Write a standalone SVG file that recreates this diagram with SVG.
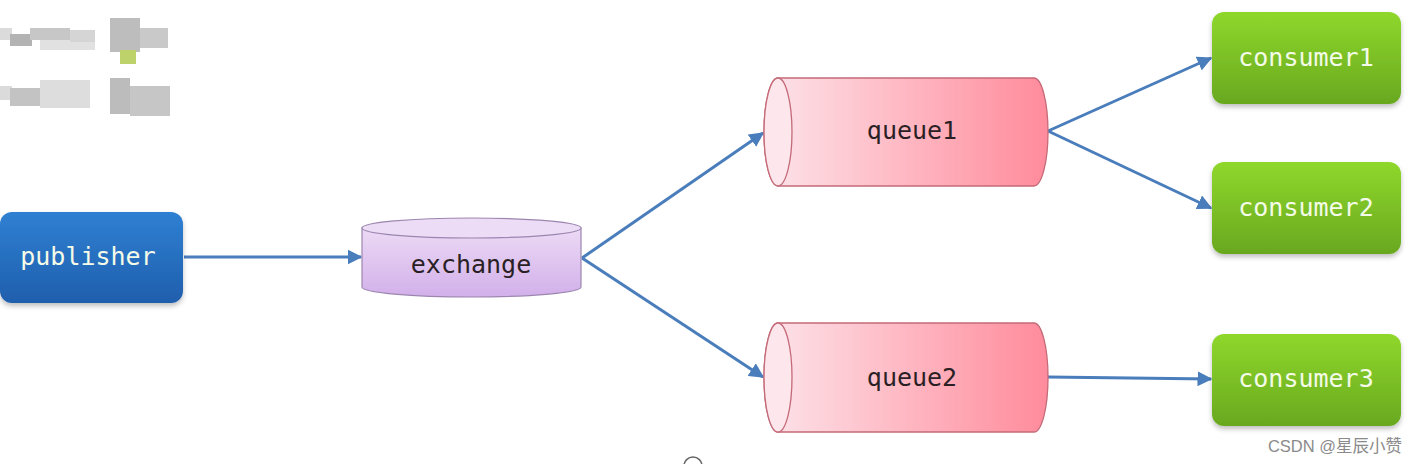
<svg xmlns="http://www.w3.org/2000/svg" width="1418" height="464" viewBox="0 0 1418 464">
<defs>
<linearGradient id="gBlue" x1="0" y1="0" x2="0" y2="1"><stop offset="0" stop-color="#2f80d2"/><stop offset="1" stop-color="#1f5ead"/></linearGradient>
<linearGradient id="gGreen" x1="0" y1="0" x2="0" y2="1"><stop offset="0" stop-color="#8fd82c"/><stop offset="1" stop-color="#68a81f"/></linearGradient>
<linearGradient id="gPurple" x1="0" y1="0" x2="0" y2="1"><stop offset="0" stop-color="#ecdaf5"/><stop offset="1" stop-color="#d2b0ea"/></linearGradient>
<linearGradient id="gPink" x1="0" y1="0" x2="1" y2="0"><stop offset="0" stop-color="#fde4ea"/><stop offset="1" stop-color="#ff8b9b"/></linearGradient>
<filter id="sh" x="-10%" y="-10%" width="120%" height="130%"><feDropShadow dx="0" dy="3" stdDeviation="2.5" flood-color="#000" flood-opacity="0.25"/></filter>
<marker id="arr" viewBox="0 0 10 10" refX="9" refY="5" markerWidth="5" markerHeight="5" orient="auto" markerUnits="strokeWidth"><path d="M0,0 L10,5 L0,10 z" fill="#4a7dbb"/></marker>
</defs>
<style>
.lbl{font-family:"DejaVu Sans Mono","Liberation Mono",monospace;font-size:25px;text-anchor:middle;dominant-baseline:central}
.w{fill:#f4fbe8}
.d{fill:#2a1f24}
.conn{stroke:#4a7dbb;stroke-width:3;fill:none;marker-end:url(#arr)}
.qs{stroke:#c46a78;stroke-width:1.3}
</style>
<rect width="1418" height="464" fill="#ffffff"/>
<g id="mosaic" opacity="0.75">
<rect x="0" y="28" width="12" height="12" fill="#d0d0d0"/>
<rect x="10" y="34" width="22" height="12" fill="#9a9a9a"/>
<rect x="30" y="28" width="40" height="12" fill="#b5b5b5"/>
<rect x="40" y="40" width="55" height="10" fill="#d8d8d8"/>
<rect x="70" y="30" width="25" height="12" fill="#c8c8c8"/>
<rect x="110" y="18" width="30" height="34" fill="#a8a8a8"/>
<rect x="140" y="28" width="28" height="20" fill="#b8b8b8"/>
<rect x="120" y="50" width="16" height="14" fill="#a8c43a"/>
<rect x="0" y="86" width="12" height="14" fill="#cfcfcf"/>
<rect x="10" y="88" width="30" height="18" fill="#b0b0b0"/>
<rect x="40" y="80" width="50" height="28" fill="#d2d2d2"/>
<rect x="110" y="78" width="20" height="36" fill="#a6a6a6"/>
<rect x="130" y="86" width="40" height="30" fill="#b4b4b4"/>
</g>
<g id="connectors">
<line class="conn" x1="184" y1="257" x2="361" y2="257"/>
<line class="conn" x1="582" y1="258" x2="763" y2="133"/>
<line class="conn" x1="582" y1="258" x2="763" y2="377"/>
<line class="conn" x1="1048" y1="131" x2="1211" y2="58"/>
<line class="conn" x1="1048" y1="131" x2="1211" y2="208"/>
<line class="conn" x1="1048" y1="377" x2="1211" y2="379"/>
</g>
<g id="publisher">
<rect x="0" y="212" width="183" height="91" rx="12" fill="url(#gBlue)" filter="url(#sh)"/>
<text class="lbl w" x="88" y="256">publisher</text>
</g>
<g id="exchange">
<path d="M362,228 L362,287 A109.5,10 0 0 0 581,287 L581,228 Z" fill="url(#gPurple)" stroke="#9c86b0" stroke-width="1.2"/>
<ellipse cx="471.5" cy="228" rx="109.5" ry="10" fill="#ecdcf5" stroke="#9c86b0" stroke-width="1.2"/>
<text class="lbl d" x="471" y="264">exchange</text>
</g>
<g id="queue1">
<path d="M778,78 L1034,78 A14,54 0 0 1 1034,186 L778,186 A14,54 0 0 1 778,78 Z" fill="url(#gPink)" class="qs"/>
<ellipse cx="778" cy="132" rx="14" ry="54" fill="#fde6ec" class="qs"/>
<text class="lbl d" x="912" y="130">queue1</text>
</g>
<g id="queue2">
<path d="M778,323 L1034,323 A14,54.5 0 0 1 1034,432 L778,432 A14,54.5 0 0 1 778,323 Z" fill="url(#gPink)" class="qs"/>
<ellipse cx="778" cy="377.5" rx="14" ry="54.5" fill="#fde6ec" class="qs"/>
<text class="lbl d" x="912" y="377">queue2</text>
</g>
<g id="consumer1">
<rect x="1212" y="12" width="189" height="92" rx="12" fill="url(#gGreen)" filter="url(#sh)"/>
<text class="lbl w" x="1306" y="57">consumer1</text>
</g>
<g id="consumer2">
<rect x="1212" y="162" width="189" height="92" rx="12" fill="url(#gGreen)" filter="url(#sh)"/>
<text class="lbl w" x="1306" y="207">consumer2</text>
</g>
<g id="consumer3">
<rect x="1212" y="334" width="189" height="92" rx="12" fill="url(#gGreen)" filter="url(#sh)"/>
<text class="lbl w" x="1306" y="378">consumer3</text>
</g>
<circle cx="693" cy="466" r="9" fill="none" stroke="#666" stroke-width="1.5"/>
<text x="1402" y="452" font-family="Liberation Sans, 'Noto Sans CJK SC', sans-serif" font-size="16.5" fill="#8a8a8a" text-anchor="end">CSDN @星辰小赞</text>
</svg>
